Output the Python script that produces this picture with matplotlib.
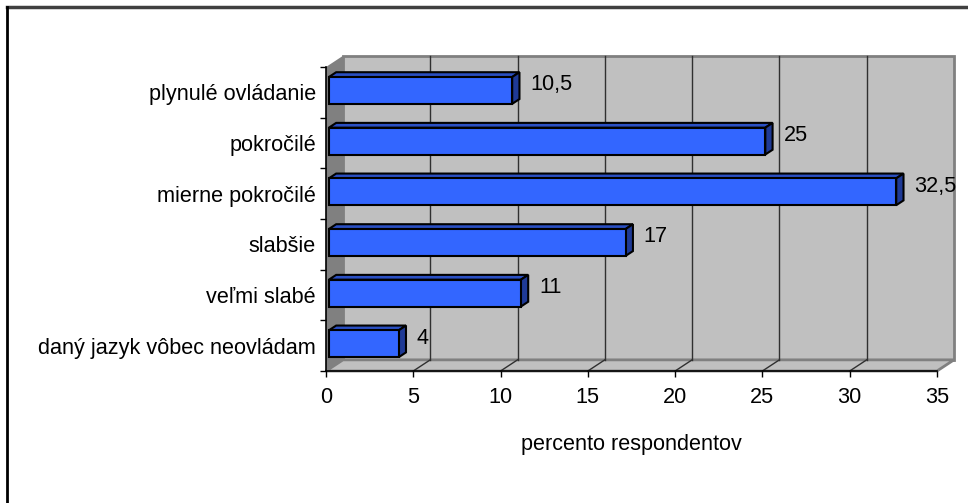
import matplotlib
matplotlib.use("Agg")
import matplotlib.pyplot as plt
from matplotlib.patches import Polygon, Rectangle
from matplotlib.lines import Line2D
import numpy as np

plt.rcParams["font.family"] = ["Liberation Sans", "DejaVu Sans"]

# data (bottom -> top)
categories = ["daný jazyk vôbec neovládam", "veľmi slabé", "slabšie",
              "mierne pokročilé", "pokročilé", "plynulé ovládanie"]
values = [4, 11, 17, 32.5, 25, 10.5]
value_labels = ["4", "11", "17", "32,5", "25", "10,5"]
xticks = [0, 5, 10, 15, 20, 25, 30, 35]

FS = 15.6
XMAX = 35
DX, DY = 0.97, 0.22          # depth of the 3-D box in data units
F0, F1 = 0.17, 0.6           # bar front / back depth fraction
H = 0.53                     # bar height

W, Hpx = 968, 503
fig = plt.figure(figsize=(W / 100, Hpx / 100), dpi=100)
ax = fig.add_axes([326 / W, (Hpx - 371) / Hpx, (937 - 326) / W, (371 - 67) / Hpx])
ax.set_xlim(0, XMAX)
ax.set_ylim(-0.5, len(categories) - 0.5)
ax.patch.set_visible(False)

top_y = len(categories) - 0.5
# back wall
ax.add_patch(Rectangle((DX, -0.5 + DY), XMAX, len(categories), facecolor="#C0C0C0",
                       edgecolor="#808080", lw=2, zorder=0, clip_on=False))
# left wall
ax.add_patch(Polygon([(0, -0.5), (DX, -0.5 + DY), (DX, top_y + DY), (0, top_y)],
                     closed=True, facecolor="#808080", edgecolor="none",
                     zorder=0, clip_on=False))
# floor
ax.add_patch(Polygon([(0, -0.5), (XMAX, -0.5), (XMAX + DX, -0.5 + DY), (DX, -0.5 + DY)],
                     closed=True, facecolor="#C0C0C0", edgecolor="#808080", lw=2,
                     zorder=0.5, clip_on=False))
# grid on wall and floor
for x in xticks[1:-1]:
    ax.add_line(Line2D([x + DX, x + DX], [-0.5 + DY, top_y + DY], color="#303030",
                       lw=1, zorder=0.6, clip_on=False))
    ax.add_line(Line2D([x, x + DX], [-0.5, -0.5 + DY], color="#303030",
                       lw=1, zorder=0.6, clip_on=False))

# bars
y = np.arange(len(categories))
ax.barh(y + F0 * DY, values, left=F0 * DX, height=H, color="#3366FF",
        edgecolor="black", lw=1.5, zorder=3, clip_on=False)
for yi, v, lab in zip(y, values, value_labels):
    top = yi + H / 2
    bot = yi - H / 2
    ax.add_patch(Polygon([(F0 * DX, top + F0 * DY), (v + F0 * DX, top + F0 * DY),
                          (v + F1 * DX, top + F1 * DY), (F1 * DX, top + F1 * DY)],
                         closed=True, facecolor="#2A4FC2", edgecolor="black",
                         lw=1.5, zorder=2.9, clip_on=False))
    ax.add_patch(Polygon([(v + F0 * DX, bot + F0 * DY), (v + F0 * DX, top + F0 * DY),
                          (v + F1 * DX, top + F1 * DY), (v + F1 * DX, bot + F1 * DY)],
                         closed=True, facecolor="#1F3A96", edgecolor="black",
                         lw=1.5, zorder=2.9, clip_on=False))
    ax.text(v + 1.2, yi + 0.9 * DY, lab, fontsize=FS, ha="left",
            va="center_baseline", zorder=4)

# axes
for s in ["top", "right"]:
    ax.spines[s].set_visible(False)
for s in ["left", "bottom"]:
    ax.spines[s].set_color("black")
    ax.spines[s].set_linewidth(1.2)
    ax.spines[s].set_zorder(5)
ax.set_xticks(xticks)
ax.set_xticklabels([str(t) for t in xticks], fontsize=FS)
ax.tick_params(axis="x", length=4.5, width=1, pad=7)
ax.set_yticks(y)
ax.set_yticklabels(categories, fontsize=FS)
ax.set_yticks(np.arange(-0.5, len(categories)), minor=True)
ax.tick_params(axis="y", which="major", length=0, pad=7.2)
ax.tick_params(axis="y", which="minor", length=4.5, width=1)
ax.set_xlabel("percento respondentov", fontsize=FS, labelpad=19)

# outer frame (top and left only)
fig.add_artist(Line2D([7 / W, 1], [1 - 7 / Hpx, 1 - 7 / Hpx], color="#404040", lw=2.5))
fig.add_artist(Line2D([7 / W, 7 / W], [0, 1 - 7 / Hpx], color="black", lw=2))

fig.savefig("out.png", dpi=100)
